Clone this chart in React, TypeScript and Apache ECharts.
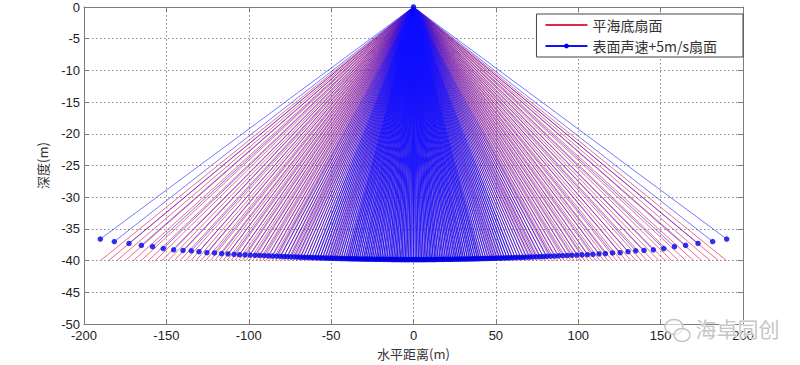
import React, { useEffect, useRef } from "react";
import * as echarts from "echarts";

// Source point of the fan (transducer), in metres
const SOURCE: [number, number] = [0, 0];

// Flat-seabed fan: horizontal end points of each beam (m); all beams end at SEABED_DEPTH
const SEABED_DEPTH = -40;
const RED_X = [
  -190, -185.1, -180.1, -174.9, -170, -165.3, -160.9, -156.7, -152.7, -148.9, -145.2, -141.7, -138.3, -135.1, -132,
  -129, -126.1, -123.3, -120.6, -118, -115.5, -113.1, -110.7, -108.4, -106.1, -103.9, -101.7, -99.6, -97.5, -95.5,
  -93.5, -91.5, -89.5, -87.6, -85.7, -83.8, -81.9, -80, -78.2, -76.4, -74.6, -72.8, -71, -69.3, -67.6, -65.9, -64.2,
  -62.5, -60.8, -59.1, -57.4, -55.7, -54, -52.4, -50.8, -49.2, -47.6, -46, -44.4, -42.8, -41.2, -39.6, -38, -36.4,
  -34.8, -33.2, -31.6, -30, -28.5, -27, -25.5, -24, -22.5, -21, -19.5, -18, -16.5, -15, -13.5, -12, -10.5, -9, -7.5,
  -6, -4.5, -3, -1.5,
  0,
  1.5, 3, 4.5, 6, 7.5, 9, 10.5, 12, 13.5, 15, 16.5, 18, 19.5, 21, 22.5, 24, 25.5, 27, 28.5, 30, 31.6, 33.2, 34.8,
  36.4, 38, 39.6, 41.2, 42.8, 44.4, 46, 47.6, 49.2, 50.8, 52.4, 54, 55.7, 57.4, 59.1, 60.8, 62.5, 64.2, 65.9, 67.6,
  69.3, 71, 72.8, 74.6, 76.4, 78.2, 80, 81.9, 83.8, 85.7, 87.6, 89.5, 91.5, 93.5, 95.5, 97.5, 99.6, 101.7, 103.9,
  106.1, 108.4, 110.7, 113.1, 115.5, 118, 120.6, 123.3, 126.1, 129, 132, 135.1, 138.3, 141.7, 145.2, 148.9, 152.7,
  156.7, 160.9, 165.3, 170, 174.9, 180.1, 185.1, 190,
];

// Surface sound speed +5 m/s fan: end points (horizontal distance, depth) in metres
const BLUE_X = [
  -190.1, -181.6, -172.7, -165.2, -158.4, -151.9, -145.6, -139.9, -134.9, -130.2, -125.4, -120.8, -116.5, -112.6,
  -108.9, -105.6, -102.3, -99.2, -96.2, -93.4, -90.7, -88.1, -85.6, -83.2, -80.9, -78.7, -76.6, -74.5, -72.5, -70.6,
  -68.7, -66.9, -65.1, -63.4, -61.7, -60.0, -58.4, -56.8, -55.3, -53.8, -52.3, -50.8, -49.4, -48.0, -46.6, -45.2,
  -43.9, -42.6, -41.3, -40.0, -38.8, -37.6, -36.4, -35.2, -34.0, -32.8, -31.6, -30.4, -29.3, -28.2, -27.1, -26.0,
  -24.9, -23.8, -22.7, -21.6, -20.5, -19.4, -18.3, -17.2, -16.1, -15, -14, -13, -12, -11, -10, -9, -8, -7, -6, -5,
  -4, -3, -2, -1,
  0,
  1, 2, 3, 4, 5, 6, 7, 8, 9, 10, 11, 12, 13, 14, 15, 16.1, 17.2, 18.3, 19.4, 20.5, 21.6, 22.7, 23.8, 24.9, 26.0,
  27.1, 28.2, 29.3, 30.4, 31.6, 32.8, 34.0, 35.2, 36.4, 37.6, 38.8, 40.0, 41.3, 42.6, 43.9, 45.2, 46.6, 48.0, 49.4,
  50.8, 52.3, 53.8, 55.3, 56.8, 58.4, 60.0, 61.7, 63.4, 65.1, 66.9, 68.7, 70.6, 72.5, 74.5, 76.6, 78.7, 80.9, 83.2,
  85.6, 88.1, 90.7, 93.4, 96.2, 99.2, 102.3, 105.6, 108.9, 112.6, 116.5, 120.8, 125.4, 130.2, 134.9, 139.9, 145.6,
  151.9, 158.4, 165.2, 172.7, 181.6, 190.1,
];
const BLUE_DEPTH = [
  -36.6, -37.0, -37.3, -37.6, -37.8, -38.1, -38.3, -38.4, -38.45, -38.6, -38.75, -38.8, -38.9, -38.95, -39.0, -39.07,
  -39.1, -39.12, -39.16, -39.19, -39.22, -39.25, -39.28, -39.31, -39.33, -39.36, -39.38, -39.4, -39.42, -39.44,
  -39.46, -39.48, -39.5, -39.51, -39.53, -39.54, -39.56, -39.57, -39.58, -39.6, -39.61, -39.62, -39.63, -39.64,
  -39.65, -39.66, -39.67, -39.68, -39.69, -39.7, -39.71, -39.72, -39.73, -39.73, -39.74, -39.75, -39.75, -39.76,
  -39.76, -39.77, -39.77, -39.78, -39.78, -39.79, -39.79, -39.8, -39.8, -39.8, -39.81, -39.81, -39.82, -39.82,
  -39.82, -39.83, -39.83, -39.83, -39.84, -39.84, -39.84, -39.85, -39.85, -39.85, -39.85, -39.85, -39.85, -39.85,
  -39.85,
  -39.85, -39.85, -39.85, -39.85, -39.85, -39.85, -39.85, -39.84, -39.84, -39.84, -39.83, -39.83, -39.83, -39.82,
  -39.82, -39.82, -39.81, -39.81, -39.8, -39.8, -39.8, -39.79, -39.79, -39.78, -39.78, -39.77, -39.77, -39.76,
  -39.76, -39.75, -39.75, -39.74, -39.73, -39.73, -39.72, -39.71, -39.7, -39.69, -39.68, -39.67, -39.66, -39.65,
  -39.64, -39.63, -39.62, -39.61, -39.6, -39.58, -39.57, -39.56, -39.54, -39.53, -39.51, -39.5, -39.48, -39.46,
  -39.44, -39.42, -39.4, -39.38, -39.36, -39.33, -39.31, -39.28, -39.25, -39.22, -39.19, -39.16, -39.12, -39.1,
  -39.07, -39.0, -38.95, -38.9, -38.8, -38.75, -38.6, -38.45, -38.4, -38.3, -38.1, -37.8, -37.6, -37.3, -37.0, -36.6,
];

const SERIES_NAMES = ["平海底扇面", "表面声速+5m/s扇面"];
const X_NAME = "水平距离(m)";
const Y_NAME = "深度(m)";
const WATERMARK = "海卓同创";

const RED = "#e0284c";
const BLUE = "#1010ff";
const DOT = "#0000e6";
const AXIS_GRAY = "#7c7c7c";
const LATIN = "'Liberation Sans', Arial, sans-serif";
const CJK = "'Noto Sans CJK SC', sans-serif";

// stroke weight of a blue beam by how far out it lands (style only)
function blueStyle(x: number) {
  const a = Math.abs(x);
  if (a <= 40) return { width: 1.25, opacity: 0.9 };
  if (a <= 60) return { width: 1.1, opacity: 0.85 };
  if (a <= 85) return { width: 0.95, opacity: 0.8 };
  return { width: 0.75, opacity: 0.75 };
}

export default function App() {
  const ref = useRef<HTMLDivElement>(null);

  useEffect(() => {
    if (!ref.current) return;
    const chart = echarts.init(ref.current, undefined, { renderer: "svg" });

    const redRays = RED_X.map((x) => ({ coords: [SOURCE, [x, SEABED_DEPTH]] }));
    const blueRays = BLUE_X.map((x, i) => ({
      coords: [SOURCE, [x, BLUE_DEPTH[i]]],
      lineStyle: blueStyle(x),
    }));
    const blueDots = BLUE_X.map((x, i) => [x, BLUE_DEPTH[i]]);

    const baseX = { type: "value", min: -200, max: 200, interval: 50 };
    const baseY = { type: "value", min: -50, max: 0, interval: 5 };
    const line = { show: true, onZero: false, lineStyle: { color: AXIS_GRAY, width: 1 } };
    const tick = { show: true, inside: true, length: 5, lineStyle: { color: AXIS_GRAY } };
    const split = { show: true, lineStyle: { color: "#8a8a8a", type: [1.5, 2.5], width: 1 } };

    chart.setOption({
      animation: false,
      backgroundColor: "#ffffff",
      grid: { left: 84, right: 57, top: 7, bottom: 41 },
      legend: {
        data: [
          {
            name: SERIES_NAMES[0],
            itemStyle: { color: "rgba(0,0,0,0)", borderWidth: 0, opacity: 0 },
          },
          { name: SERIES_NAMES[1] },
        ],
        orient: "vertical",
        right: 57,
        top: 14,
        itemWidth: 42,
        itemHeight: 6,
        itemGap: 7,
        padding: [4, 26, 4, 8],
        borderColor: "#444",
        borderWidth: 1,
        backgroundColor: "#ffffff",
        textStyle: { fontSize: 14, fontFamily: CJK, color: "#333" },
      },
      xAxis: [
        {
          ...baseX,
          position: "bottom",
          axisLine: line,
          axisTick: tick,
          axisLabel: { color: "#222", fontSize: 13, fontFamily: LATIN, margin: 5 },
          splitLine: split,
          name: X_NAME,
          nameLocation: "middle",
          nameGap: 21,
          nameTextStyle: { color: "#333", fontSize: 13, fontFamily: CJK },
        },
        {
          ...baseX,
          position: "top",
          axisLine: line,
          axisTick: tick,
          axisLabel: { show: false },
          splitLine: { show: false },
        },
      ],
      yAxis: [
        {
          ...baseY,
          position: "left",
          axisLine: line,
          axisTick: tick,
          axisLabel: { color: "#222", fontSize: 13, fontFamily: LATIN, margin: 4 },
          splitLine: split,
          name: Y_NAME,
          nameLocation: "middle",
          nameGap: 35,
          nameTextStyle: { color: "#333", fontSize: 13, fontFamily: CJK },
        },
        {
          ...baseY,
          position: "right",
          axisLine: line,
          axisTick: tick,
          axisLabel: { show: false },
          splitLine: { show: false },
        },
      ],
      series: [
        {
          type: "lines",
          coordinateSystem: "cartesian2d",
          xAxisIndex: 0,
          yAxisIndex: 0,
          silent: true,
          lineStyle: { color: RED, width: 0.9, opacity: 0.75 },
          data: redRays,
          z: 2,
        },
        {
          type: "lines",
          coordinateSystem: "cartesian2d",
          xAxisIndex: 0,
          yAxisIndex: 0,
          silent: true,
          lineStyle: { color: BLUE, width: 1, opacity: 0.85 },
          data: blueRays,
          z: 3,
        },
        {
          type: "scatter",
          xAxisIndex: 0,
          yAxisIndex: 0,
          symbol: "circle",
          symbolSize: 5.5,
          itemStyle: { color: DOT },
          data: [...blueDots, SOURCE],
          z: 4,
        },
        {
          name: SERIES_NAMES[0],
          type: "line",
          data: [],
          symbol: "none",
          lineStyle: { color: RED, width: 1 },
          itemStyle: { color: RED },
        },
        {
          name: SERIES_NAMES[1],
          type: "line",
          data: [],
          symbol: "circle",
          symbolSize: 5,
          lineStyle: { color: BLUE, width: 1 },
          itemStyle: { color: DOT },
        },
      ],
      graphic: [
        {
          type: "ellipse",
          z: 100,
          shape: { cx: 674, cy: 327, rx: 9, ry: 7.5 },
          style: { fill: "rgba(255,255,255,0.6)", stroke: "#c4c4c4", lineWidth: 1.5 },
        },
        {
          type: "ellipse",
          z: 101,
          shape: { cx: 682, cy: 335, rx: 8, ry: 6.5 },
          style: { fill: "rgba(255,255,255,0.6)", stroke: "#c4c4c4", lineWidth: 1.5 },
        },
        {
          type: "text",
          z: 102,
          left: 695,
          top: 317,
          style: {
            text: WATERMARK,
            fontSize: 21,
            fontFamily: CJK,
            fill: "#c6c6c6",
            stroke: "#ffffff",
            lineWidth: 1,
          },
        },
      ],
    });

    return () => chart.dispose();
  }, []);

  return (
    <div
      ref={ref}
      style={{ position: "fixed", left: 0, top: 0, width: 800, height: 365, background: "#fff" }}
    />
  );
}
